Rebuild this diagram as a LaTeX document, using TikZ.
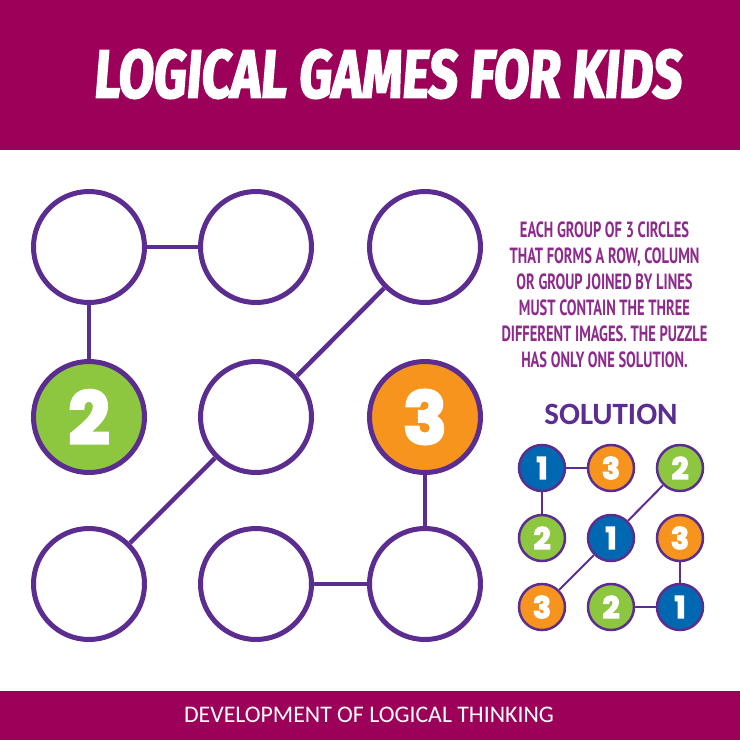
\documentclass[tikz,border=0pt]{standalone}
\usepackage{fontspec}
\setmainfont{Carlito}
\newfontfamily\titlefont[FakeStretch=0.75,FakeSlant=0.08,FakeBold=2.5]{Fira Sans Bold}
\newfontfamily\notefont[FakeStretch=0.66]{PT Sans Bold}
\newfontfamily\digitfont[FakeBold=4]{Poppins Bold}
\usetikzlibrary{positioning}
\definecolor{bandColor}{HTML}{9C0059}
\definecolor{ringColor}{HTML}{5C2D91}
\definecolor{noteColor}{HTML}{8E2A8C}
\definecolor{greenColor}{HTML}{8DC63F}
\definecolor{orangeColor}{HTML}{F7941E}
\definecolor{blueColor}{HTML}{0067B1}
\tikzset{
    bigCircle/.style={circle,draw=ringColor,line width=5pt,minimum size=111pt,inner sep=0pt,text=white,font=\digitfont\fontsize{72}{72}\selectfont},
    smallCircle/.style={circle,draw=ringColor,line width=2.5pt,minimum size=46pt,inner sep=0pt,text=white,font=\digitfont\fontsize{30}{30}\selectfont},
    bigLink/.style={ringColor,line width=4.5pt},
    smallLink/.style={ringColor,line width=2pt},
}
\begin{document}
\begin{tikzpicture}[x=1pt,y=-1pt]
    \useasboundingbox (0,0) rectangle (740,740);
    \fill[white] (0,0) rectangle (740,740);
    \fill[bandColor] (0,0) rectangle (740,150);
    \fill[bandColor] (0,691) rectangle (740,740);

    \node[white,font=\titlefont\fontsize{68}{68}\selectfont] (title) at (387,74) {LOGICAL GAMES FOR KIDS};
    \node[white,font=\fontsize{23.8}{23.8}\selectfont] (footer) at (369,715) {DEVELOPMENT OF LOGICAL THINKING};

    \node[noteColor,align=center,font=\notefont\fontsize{22}{26}\selectfont] (note) at (604.5,295) {EACH GROUP OF 3 CIRCLES\\THAT FORMS A ROW, COLUMN\\OR GROUP JOINED BY LINES\\MUST CONTAIN THE THREE\\DIFFERENT IMAGES. THE PUZZLE\\HAS ONLY ONE SOLUTION.};
    \node[ringColor,font=\bfseries\fontsize{31}{31}\selectfont] (solution) at (611,414) {SOLUTION};

    % puzzle
    \node[bigCircle] (a1) at (89,247) {};
    \node[bigCircle,right of = a1,node distance=167pt] (a2) {};
    \node[bigCircle,right of = a2,node distance=169pt] (a3) {};
    \node[bigCircle,fill=greenColor] (b1) at (89,417) {2};
    \node[bigCircle,right of = b1,node distance=167pt] (b2) {};
    \node[bigCircle,fill=orangeColor,right of = b2,node distance=169pt] (b3) {3};
    \node[bigCircle] (c1) at (89,584) {};
    \node[bigCircle,right of = c1,node distance=167pt] (c2) {};
    \node[bigCircle,right of = c2,node distance=169pt] (c3) {};

    \draw[bigLink] (a1) -- (a2);
    \draw[bigLink] (a1) -- (b1);
    \draw[bigLink] (a3) -- (b2);
    \draw[bigLink] (b2) -- (c1);
    \draw[bigLink] (b3) -- (c3);
    \draw[bigLink] (c2) -- (c3);

    % solution
    \node[smallCircle,fill=blueColor] (sa1) at (542,468) {1};
    \node[smallCircle,fill=orangeColor,right of = sa1,node distance=69pt] (sa2) {3};
    \node[smallCircle,fill=greenColor,right of = sa2,node distance=69pt] (sa3) {2};
    \node[smallCircle,fill=greenColor] (sb1) at (542,538) {2};
    \node[smallCircle,fill=blueColor,right of = sb1,node distance=69pt] (sb2) {1};
    \node[smallCircle,fill=orangeColor,right of = sb2,node distance=69pt] (sb3) {3};
    \node[smallCircle,fill=orangeColor] (sc1) at (542,607) {3};
    \node[smallCircle,fill=greenColor,right of = sc1,node distance=69pt] (sc2) {2};
    \node[smallCircle,fill=blueColor,right of = sc2,node distance=69pt] (sc3) {1};

    \draw[smallLink] (sa1) -- (sa2);
    \draw[smallLink] (sa1) -- (sb1);
    \draw[smallLink] (sa3) -- (sb2);
    \draw[smallLink] (sb2) -- (sc1);
    \draw[smallLink] (sb3) -- (sc3);
    \draw[smallLink] (sc2) -- (sc3);
\end{tikzpicture}
\end{document}
